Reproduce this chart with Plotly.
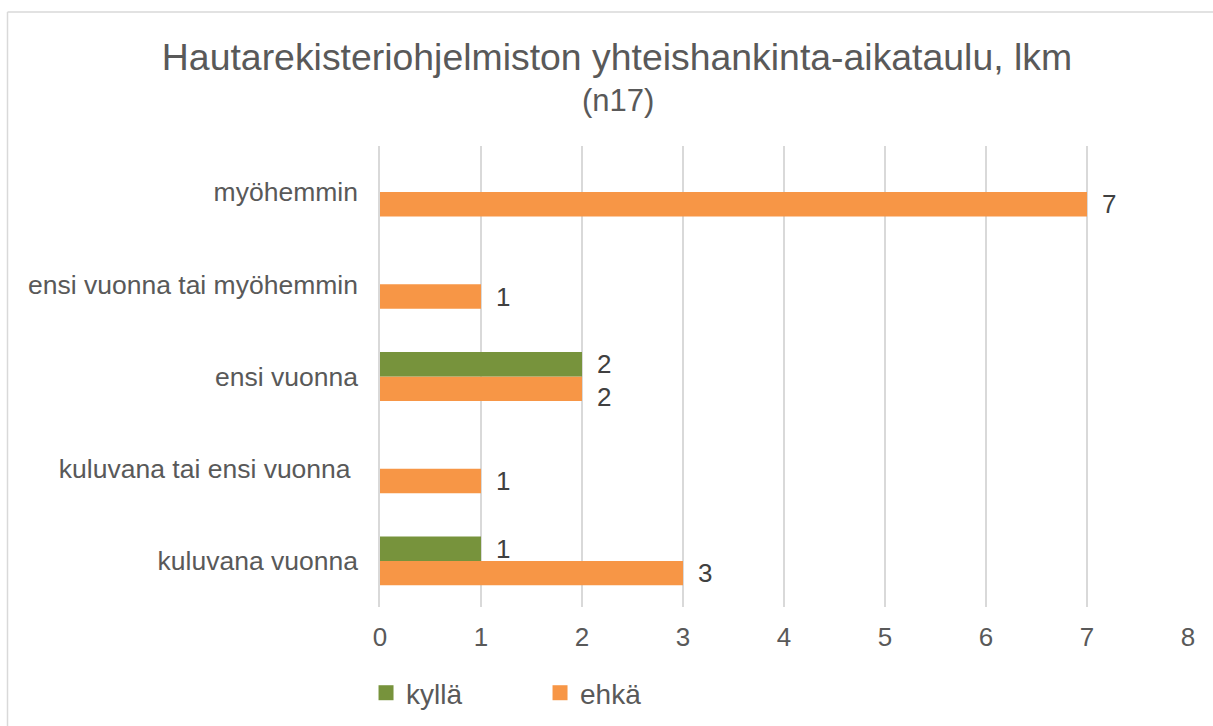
import plotly.graph_objects as go

categories = ["kuluvana vuonna", "kuluvana tai ensi vuonna\u00a0", "ensi vuonna",
              "ensi vuonna tai myöhemmin", "myöhemmin"]
kylla = [1, None, 2, None, None]
ehka = [3, 1, 2, 1, 7]
x_ticks = [0, 1, 2, 3, 4, 5, 6, 7, 8]

GREEN = "#77933C"
ORANGE = "#F79646"
TXT = "#595959"
LBL = "#404040"
GRID = "#D9D9D9"
FONT = "Liberation Sans, Arial, sans-serif"

fig = go.Figure()
# ehkä first so it sits at the lower slot of each group
fig.add_trace(go.Bar(y=categories, x=ehka, orientation="h", name="ehkä",
                     marker=dict(color=ORANGE, line=dict(width=0)),
                     showlegend=False, hoverinfo="x+y"))
fig.add_trace(go.Bar(y=categories, x=kylla, orientation="h", name="kyllä",
                     marker=dict(color=GREEN, line=dict(width=0)),
                     showlegend=False, hoverinfo="x+y"))
# legend entries
fig.add_trace(go.Scatter(x=[None], y=[None], mode="markers", name="kyllä",
                         marker=dict(symbol="square", size=15, color=GREEN)))
fig.add_trace(go.Scatter(x=[None], y=[None], mode="markers", name="ehkä",
                         marker=dict(symbol="square", size=15, color=ORANGE)))

# data labels (placed through the axes, nudged to each bar's slot)
BAR_OFFSET = 12.2
for cat, k, e in zip(categories, kylla, ehka):
    collide = k is not None and e is not None and k == e
    if k is not None:
        fig.add_annotation(x=k, y=cat, text=str(k), showarrow=False,
                           xanchor="left", yanchor="middle", xshift=13,
                           yshift=BAR_OFFSET,
                           font=dict(size=26, color=LBL, family=FONT))
    if e is not None:
        fig.add_annotation(x=e, y=cat, text=str(e), showarrow=False,
                           xanchor="left", yanchor="middle", xshift=13,
                           yshift=-BAR_OFFSET - (8 if collide else 0),
                           font=dict(size=26, color=LBL, family=FONT))

fig.update_layout(
    width=1213, height=726,
    margin=dict(l=380, r=25, t=146, b=119, autoexpand=False),
    paper_bgcolor="white", plot_bgcolor="white",
    barmode="group", bargap=0.47, bargroupgap=0,
    font=dict(family=FONT, color=TXT),
    title=dict(text="Hautarekisteriohjelmiston yhteishankinta-aikataulu, lkm",
               font=dict(size=37.4, color=TXT, family=FONT),
               x=617 / 1213, xref="container", xanchor="center",
               y=1 - 57 / 726, yref="container", yanchor="middle"),
    legend=dict(orientation="h", x=-0.0173, xanchor="left",
                y=-0.1866, yanchor="middle",
                font=dict(size=28, color=TXT, family=FONT),
                entrywidth=129, entrywidthmode="pixels", itemwidth=30,
                bgcolor="rgba(0,0,0,0)"),
    showlegend=True,
)
fig.add_annotation(text="(n17)", xref="paper", yref="paper",
                   x=(617.5 - 380) / 808, y=(607 - 100) / 461,
                   xanchor="center", yanchor="middle", showarrow=False,
                   font=dict(size=31, color=TXT, family=FONT))

fig.update_xaxes(range=[0, 8], tickvals=x_ticks, showgrid=True, gridcolor=GRID,
                 gridwidth=1.5, zeroline=False, showline=False,
                 tickfont=dict(size=26, color=TXT, family=FONT),
                 ticks="", ticklabelstandoff=12, fixedrange=True)
fig.update_yaxes(type="category", categoryorder="array", categoryarray=categories,
                 showgrid=False, showline=True, linecolor=GRID, linewidth=1.5,
                 tickfont=dict(size=26.5, color=TXT, family=FONT),
                 ticks="", ticklabelstandoff=15, fixedrange=True)

# chart area border (left and top edges visible in the reference)
fig.add_shape(type="line", xref="paper", yref="paper",
              x0=(7.5 - 380) / 808, x1=(7.5 - 380) / 808,
              y0=(607 - 12) / 461, y1=(607 - 740) / 461,
              line=dict(color=GRID, width=1.5))
fig.add_shape(type="line", xref="paper", yref="paper",
              x0=(7.5 - 380) / 808, x1=(1230 - 380) / 808,
              y0=(607 - 12) / 461, y1=(607 - 12) / 461,
              line=dict(color=GRID, width=1.5))

fig.write_html("out.html", config={"displayModeBar": False},
               post_script="document.body.style.margin='0';document.body.style.overflow='hidden';")
